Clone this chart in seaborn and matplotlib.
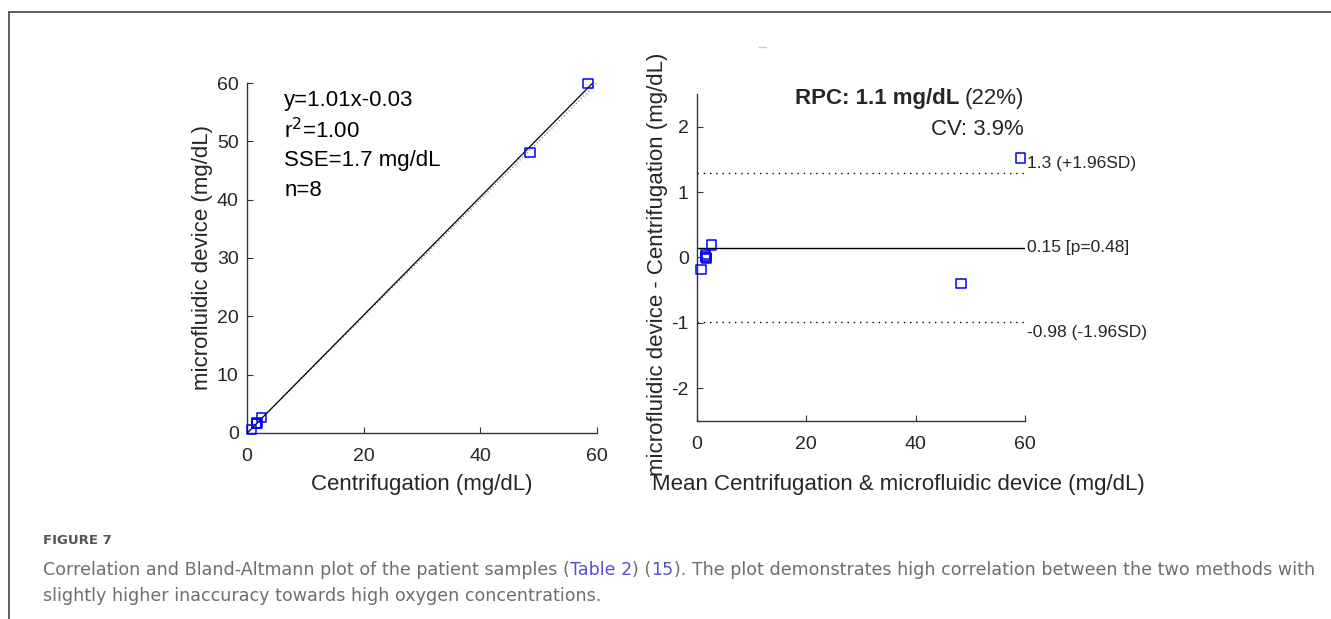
import numpy as np
import matplotlib
matplotlib.use('Agg')
import matplotlib.pyplot as plt
import pandas as pd
import seaborn as sns
from matplotlib.lines import Line2D

sns.set_style('ticks')
plt.rcParams['font.family'] = ['Liberation Sans', 'DejaVu Sans']
plt.rcParams['axes.unicode_minus'] = False

# patient samples (mg/dL)
centrifugation = [0.79, 1.57, 1.59, 1.71, 2.50, 48.5, 58.44, 1.65]
device = [0.61, 1.62, 1.61, 1.69, 2.69, 48.1, 59.96, 1.65]
fit_text = ['y=1.01x-0.03', 'r$^{2}$=1.00', 'SSE=1.7 mg/dL', 'n=8']
x_ticks = [0, 20, 40, 60]
y_ticks_left = [0, 10, 20, 30, 40, 50, 60]
y_ticks_right = [-2, -1, 0, 1, 2]

df = pd.DataFrame({'c': centrifugation, 'd': device})
df['mean'] = (df['c'] + df['d']) / 2
df['diff'] = df['d'] - df['c']
bias = df['diff'].mean()
sd = df['diff'].std()

fig = plt.figure(figsize=(13.31, 6.19), dpi=100)
ink = '#262626'
W, H = 1331, 619

# ---- correlation plot
ax1 = fig.add_axes([0.1856, 0.3005, 0.2629, 0.5654])
ax1.set_xlim(0, 60)
ax1.set_ylim(0, 60)
sns.lineplot(x=[0, 60], y=[0, 60], ax=ax1, color='#999999', lw=1, ls=(0, (1, 1.5)))
sns.regplot(data=df, x='c', y='d', ax=ax1, scatter=False, ci=None, truncate=False,
            line_kws={'color': 'black', 'lw': 0.9})
sns.scatterplot(data=df, x='c', y='d', ax=ax1, marker='s', s=45, clip_on=False,
                facecolors='none', edgecolor='blue', linewidth=1.1, zorder=5)
ax1.set_xlim(0, 60)
ax1.set_ylim(0, 60)
ax1.set_xticks(x_ticks)
ax1.set_yticks(y_ticks_left)
ax1.set_xlabel('Centrifugation (mg/dL)', fontsize=16, color=ink)
ax1.xaxis.set_label_coords(0.5, -0.117)
ax1.set_ylabel('microfluidic device (mg/dL)', fontsize=16, color=ink)
ax1.yaxis.set_label_coords(-0.098, 0.5)
for i, t in enumerate(fit_text):
    ax1.text(0.106, 0.95 - i * 0.086, t, transform=ax1.transAxes,
             fontsize=16, color='black', va='center', ha='left')

# ---- Bland-Altmann plot
ax2 = fig.add_axes([0.5237, 0.3199, 0.2464, 0.5283])
sns.scatterplot(data=df, x='mean', y='diff', ax=ax2, marker='s', s=45, clip_on=False,
                facecolors='none', edgecolor='blue', linewidth=1.1, zorder=5)
ax2.axhline(bias, color='black', lw=1)
ax2.axhline(bias + 1.96 * sd, color='black', lw=1, ls=(0, (1, 3.5)))
ax2.axhline(bias - 1.96 * sd, color='black', lw=1, ls=(0, (1, 3.5)))
ax2.set_xlim(0, 60)
ax2.set_ylim(-2.5, 2.5)
ax2.set_xticks(x_ticks)
ax2.set_yticks(y_ticks_right)
ax2.set_xlabel('Mean Centrifugation & microfluidic device (mg/dL)', fontsize=16, color=ink)
ax2.xaxis.set_label_coords(0.613, -0.162)
ax2.set_ylabel('microfluidic device - Centrifugation (mg/dL)', fontsize=16, color=ink)
ax2.yaxis.set_label_coords(-0.088, 0.48)
tr = ax2.get_yaxis_transform()
ax2.text(1.006, bias + 1.96 * sd + 0.03, '1.3 (+1.96SD)', transform=tr, fontsize=12.5,
         va='bottom', ha='left')
ax2.text(1.006, bias, '0.15 [p=0.48]', transform=tr, fontsize=12.5, va='center', ha='left')
ax2.text(1.006, bias - 1.96 * sd - 0.04, '-0.98 (-1.96SD)', transform=tr, fontsize=12.5,
         va='top', ha='left')
fig.canvas.draw()
rend = fig.canvas.get_renderer()
t22 = ax2.text(0.997, 0.985, '(22%)', transform=ax2.transAxes, fontsize=16,
               ha='right', va='center')
bb = t22.get_window_extent(renderer=rend)
ax2.text((bb.x0 - 5 - ax2.bbox.x0) / ax2.bbox.width, 0.985, 'RPC: 1.1 mg/dL',
         transform=ax2.transAxes, fontsize=16, fontweight='bold', ha='right', va='center')
ax2.text(0.997, 0.89, 'CV: 3.9%', transform=ax2.transAxes, fontsize=16, ha='right', va='center')

for ax in (ax1, ax2):
    sns.despine(ax=ax)
    for s in ('left', 'bottom'):
        ax.spines[s].set_color('#333333')
        ax.spines[s].set_linewidth(1)
    ax.tick_params(direction='in', length=4, width=0.8, colors='#333333',
                   labelsize=14, labelcolor=ink)
    ax.tick_params(axis='x', pad=11)
    ax.tick_params(axis='y', pad=6)
    ax.set_facecolor('none')

# ---- page frame, stray mark and caption
fig.add_artist(Line2D([9 / W, 1], [1 - 11.5 / H] * 2, color='#444444', lw=1.2))
fig.add_artist(Line2D([9 / W] * 2, [0, 1 - 11.5 / H], color='#444444', lw=1.2))
fig.add_artist(Line2D([759 / W, 766 / W], [1 - 47 / H] * 2, color='#c8c8c8', lw=1))
fig.text(43 / W, 1 - 541 / H, 'FIGURE 7', fontsize=9.5, color='#555555', va='center',
         fontweight='bold', family=['DejaVu Sans'])
cap_kw = dict(fontsize=12.6, va='center', family=['DejaVu Sans'])
grey, link = '#6e6e6e', '#5b4fd6'
parts = [('Correlation and Bland-Altmann plot of the patient samples (', grey),
         ('Table 2', link), (') (', grey), ('15', link),
         ('). The plot demonstrates high correlation between the two methods with', grey)]
x0 = 43 / W
y0 = 1 - 570 / H
for txt, col in parts:
    t = fig.text(x0, y0, txt, color=col, **cap_kw)
    bb = t.get_window_extent(renderer=rend)
    x0 += bb.width / fig.bbox.width
fig.text(43 / W, 1 - 596 / H, 'slightly higher inaccuracy towards high oxygen concentrations.',
         color=grey, **cap_kw)

fig.savefig('out.png', dpi=100)
